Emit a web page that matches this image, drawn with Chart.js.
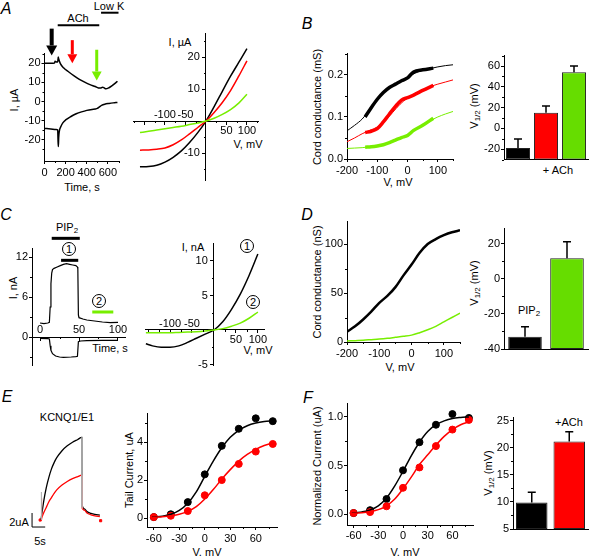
<!DOCTYPE html>
<html lang="en">
<head>
<meta charset="UTF-8">
<title>KCNQ1 / Kir panels</title>
<script src="https://cdn.jsdelivr.net/npm/chart.js"></script>
<style>
  body { margin: 0; background: #fff; }
  #fig { position: relative; width: 590px; height: 556px; overflow: hidden;
         font-family: 'Liberation Sans', Arial, sans-serif; font-size: 11px; color: #000; }
  #fig canvas { position: absolute; left: 0; top: 0; }
  .t { position: absolute; white-space: nowrap; line-height: 1; transform: translate(-50%, -50%); }
  .rot { transform: translate(-50%, -50%) rotate(-90deg); }
  .letter { font-size: 16px; font-style: italic; }
  .circ { width: 12px; height: 12px; line-height: 12px; text-align: center; border: 1px solid #000; border-radius: 50%; }
  sub { font-size: 8px; vertical-align: -2px; line-height: 0; }
</style>
</head>
<body>
<div id="fig">
  <div class="t letter" style="left:6px;top:9px">A</div>
  <div class="t" style="left:78px;top:18px">ACh</div>
  <div class="t" style="left:109px;top:6px">Low K</div>
  <div class="t rot" style="left:14px;top:100px">I, µA</div>
  <div class="t" style="left:82px;top:187px">Time, s</div>
  <div class="t" style="left:180px;top:42px">I, µA</div>
  <div class="t" style="left:248px;top:144px">V, mV</div>

  <div class="t letter" style="left:307px;top:24px">B</div>
  <div class="t rot" style="left:317px;top:107px">Cord conductance (mS)</div>
  <div class="t" style="left:398px;top:182px">V, mV</div>
  <div class="t rot" style="left:474px;top:106px">V<sub>1/2</sub> (mV)</div>
  <div class="t" style="left:558px;top:170px">+ ACh</div>

  <div class="t letter" style="left:6px;top:215px">C</div>
  <div class="t" style="left:67px;top:227px">PIP<sub>2</sub></div>
  <div class="t circ" style="left:69px;top:249px">1</div>
  <div class="t circ" style="left:99px;top:301px">2</div>
  <div class="t rot" style="left:13px;top:288px">I, nA</div>
  <div class="t" style="left:110px;top:348px">Time, s</div>
  <div class="t" style="left:193px;top:247px">I, nA</div>
  <div class="t circ" style="left:247px;top:246px">1</div>
  <div class="t circ" style="left:253px;top:302px">2</div>
  <div class="t" style="left:258px;top:350px">V, mV</div>

  <div class="t letter" style="left:307px;top:215px">D</div>
  <div class="t rot" style="left:317px;top:282px">Cord conductance (nS)</div>
  <div class="t" style="left:400px;top:367px">V, mV</div>
  <div class="t rot" style="left:474px;top:283px">V<sub>1/2</sub> (mV)</div>
  <div class="t" style="left:529px;top:310px">PIP<sub>2</sub></div>

  <div class="t letter" style="left:7px;top:397px">E</div>
  <div class="t" style="left:67px;top:417px">KCNQ1/E1</div>
  <div class="t" style="left:19px;top:522px">2uA</div>
  <div class="t" style="left:40px;top:541px">5s</div>
  <div class="t rot" style="left:129px;top:470px">Tail Current, uA</div>
  <div class="t" style="left:207px;top:552px">V, mV</div>

  <div class="t letter" style="left:308px;top:398px">F</div>
  <div class="t rot" style="left:317px;top:466px">Normalized Current (uA)</div>
  <div class="t" style="left:405px;top:552px">V, mV</div>
  <div class="t rot" style="left:488px;top:473px">V<sub>1/2</sub> (mV)</div>
  <div class="t" style="left:569px;top:422px">+ACh</div>
</div>

<script>
// colours used across panels
const RED = '#ff0000';
const GREEN = '#77ee00';
const BAR_GREEN = '#66dd00';

// ---- A: holding currents vs time (s, uA) ----
const aUpperT = [0, 60, 95, 100, 115, 125, 130, 135, 150, 180, 230, 280, 330, 380, 430, 480, 510, 530, 550, 565, 580, 610, 640, 670, 690];
const aUpperI = [20, 20, 20.1, 21, 20.6, 20.6, 23.2, 22, 19.8, 17.6, 15.4, 13.4, 11.6, 10.1, 8.8, 7.8, 7.1, 7.0, 7.5, 7.1, 6.6, 7.2, 8.3, 9.6, 10.6];
const aLowerT = [0, 60, 110, 125, 128, 131, 134, 140, 155, 175, 200, 250, 300, 350, 400, 450, 480, 500, 520, 540, 570, 610, 650, 690];
const aLowerI = [-14, -14.3, -14.6, -14.8, -20, -23.5, -19, -15.5, -13, -11, -9.6, -7.8, -6.4, -5.4, -4.6, -4.1, -3.9, -3.6, -2.8, -2.0, -1.4, -1.0, -0.7, -0.5];
const aArrowT = [68, 263, 494];
const aAChT = [125, 518];
const aLowKT = [535, 700];
const aTimeTicks = [0, 200, 400, 600];
const aCurTicks = [-20, -10, 0, 10, 20];

// ---- A: I-V (mV, uA) ----
const aV = [-161, -140, -120, -100, -80, -60, -40, -20, 0, 20, 40, 60, 80, 100];
const aIvBlack = [-14.3, -14.2, -13.8, -12.8, -11.3, -9.3, -6.7, -3.6, 0, 4.5, 9.3, 14.0, 18.3, 22.6];
const aIvRed = [-9.1, -9.0, -8.8, -8.4, -7.4, -5.9, -4.0, -2.0, 0, 2.7, 5.8, 9.5, 14.0, 18.8];
const aIvGreen = [-3.6, -3.2, -2.8, -2.4, -2.0, -1.6, -1.1, -0.6, 0, 0.9, 2.1, 3.6, 5.6, 8.4];
const aIvXTicks = [-150, -100, -50, 50, 100];
const aIvYTicks = [-10, 10, 20];

// ---- B: cord conductance (mV, mS) ----
const bFitV = [-200, -175, -150, -125, -100, -75, -50, -25, 0, 25, 50, 75, 100, 125, 150];
const bFitBlack = [0.067, 0.08, 0.095, 0.118, 0.142, 0.161, 0.174, 0.184, 0.195, 0.204, 0.211, 0.215, 0.219, 0.222, 0.224];
const bFitRed = [0.041, 0.05, 0.06, 0.068, 0.076, 0.09, 0.11, 0.13, 0.145, 0.156, 0.164, 0.172, 0.178, 0.183, 0.188];
const bFitGreen = [0.025, 0.026, 0.027, 0.029, 0.031, 0.036, 0.042, 0.049, 0.058, 0.069, 0.08, 0.091, 0.1, 0.107, 0.113];
const bDataV = [-140, -120, -100, -80, -60, -40, -20, 0, 20, 50, 85];
const bDataBlack = [0.10, 0.122, 0.142, 0.158, 0.170, 0.178, 0.186, 0.193, 0.207, 0.212, 0.216];
const bDataRed = [0.063, 0.066, 0.072, 0.088, 0.107, 0.125, 0.140, 0.146, 0.152, 0.163, 0.175];
const bDataGreen = [0.028, 0.029, 0.031, 0.034, 0.039, 0.045, 0.051, 0.056, 0.068, 0.08, 0.097];
const bVTicks = [-200, -100, 0, 100];
const bGTicks = [0, 0.1, 0.2];

// ---- B: V1/2 bars (mV) ----
const bBarLabels = ['Control', 'ACh early', 'ACh late'];
const bBarVals = [-19, 15, 54];
const bBarErr = [8.7, 6.5, 6];
const bBarBase = -30;
const bBarTicks = [-20, 0, 20, 40, 60];

// ---- C: PIP2 time course (s, nA) ----
const cUpperT = [0, 5, 10, 12, 13, 14, 15, 16, 18, 22, 26, 30, 34, 38, 42, 46, 48, 48.5, 49.2, 50, 55, 60, 70, 80, 90, 100];
const cUpperI = [2.1, 2.0, 2.1, 2.2, 4.5, 8, 9.6, 10.1, 10.3, 10.5, 10.7, 10.9, 11.0, 10.9, 10.8, 10.7, 10.5, 10.2, 3.3, 2.9, 2.7, 2.55, 2.4, 2.25, 2.15, 2.2];
const cLowerT = [0, 10, 12, 13, 14, 16, 20, 25, 30, 40, 46, 48, 48.5, 49.2, 52, 60, 80, 100];
const cLowerI = [-0.2, -0.25, -0.3, -1.3, -2.0, -2.5, -2.85, -3.0, -3.05, -3.0, -2.95, -2.9, -2.9, -0.7, -0.6, -0.55, -0.5, -0.5];
const cPipT = [15, 51];
const cWin1T = [27, 49];
const cWin2T = [67, 94];
const cTimeTicks = [0, 50, 100];
const cCurTicks = [0, 6, 12];

// ---- C: I-V (mV, nA) ----
const cV = [-155, -140, -120, -100, -80, -60, -40, -20, 0, 20, 40, 60, 80, 100];
const cIv1 = [-2.0, -2.3, -2.5, -2.5, -2.3, -1.8, -1.2, -0.6, 0, 1.2, 3.0, 5.2, 7.9, 11.0];
const cIv2 = [-0.4, -0.4, -0.4, -0.4, -0.35, -0.3, -0.25, -0.15, 0, 0.2, 0.55, 1.0, 1.7, 2.6];
const cIvXTicks = [-100, -50, 50, 100];
const cIvYTicks = [-5, 5, 10];

// ---- D: cord conductance (mV, nS) and V1/2 ----
const dV = [-200, -175, -150, -125, -100, -75, -50, -25, 0, 25, 50, 75, 100, 125, 150];
const dBlack = [10.5, 16, 23, 31, 40, 47, 56, 68, 79, 91, 100, 105, 109, 112, 114];
const dGreen = [1, 1.4, 1.8, 2.4, 3, 3.8, 4.8, 5.8, 7, 9.5, 12.5, 16, 20.5, 25, 29.5];
const dVTicks = [-200, -100, 0, 100];
const dGTicks = [0, 50, 100];
const dBarLabels = ['Control', 'PIP2'];
const dBarVals = [-33, 11.8];
const dBarErr = [5.7, 9.5];
const dBarBase = -40;
const dBarTicks = [-40, -20, 0, 20];

// ---- E: KCNQ1/E1 current traces (s, uA) ----
const eT = [0, 1, 2, 3, 4, 5, 6, 8, 10, 12, 14, 15.5, 15.6, 16.5, 17.5, 19, 20.5, 22.4];
const eBlack = [0, 2.6, 4.6, 6.1, 7.3, 8.2, 8.9, 9.9, 10.6, 11.1, 11.5, 11.8, 2.3, 1.6, 1.2, 0.95, 0.8, 0.7];
const eRed = [0, 1.0, 1.8, 2.6, 3.2, 3.8, 4.3, 5.0, 5.5, 5.9, 6.2, 6.4, 2.0, 1.4, 1.0, 0.75, 0.6, 0.5];
const eCapGreyT = [0.15, 0.15, null, 15.55, 15.55];
const eCapGreyI = [0, 4.0, null, 11.8, 1.8];
const eCapPinkT = [0.3, 0.3, null, 15.6, 15.6];
const eCapPinkI = [0, 3.1, null, 6.4, 1.6];
const eMarkT = [-0.3, 22.7];
const eMarkI = [0, -0.1];

// ---- E: tail current vs voltage (mV, uA) ----
const eV = [-60, -40, -20, 0, 20, 40, 60, 80];
const eTailBlack = [0.05, 0.2, 0.84, 2.3, 3.8, 4.7, 5.25, 5.1];
const eTailRed = [0.05, 0.12, 0.37, 1.2, 2.0, 2.85, 3.5, 3.9];
const eFitV = [-62, -60, -50, -40, -30, -20, -10, 0, 10, 20, 30, 40, 50, 60, 70, 80];
const eFitBlack = [0.04, 0.05, 0.1, 0.2, 0.4, 0.78, 1.38, 2.2, 3.0, 3.7, 4.25, 4.62, 4.86, 5.0, 5.08, 5.12];
const eFitRed = [0.03, 0.04, 0.07, 0.12, 0.2, 0.35, 0.6, 1.0, 1.5, 2.05, 2.55, 3.0, 3.35, 3.62, 3.82, 3.95];
const eVTicks = [-60, -30, 0, 30, 60];
const eITicks = [0, 2, 4];

// ---- F: normalized current and V1/2 ----
const fBlack = [0.01, 0.04, 0.155, 0.45, 0.74, 0.92, 1.03, 0.99];
const fRed = [0.01, 0.02, 0.08, 0.27, 0.48, 0.70, 0.87, 0.97];
const fFitBlack = [0.008, 0.012, 0.022, 0.042, 0.085, 0.165, 0.29, 0.44, 0.6, 0.74, 0.85, 0.92, 0.96, 0.985, 0.995, 1.0];
const fFitRed = [0.005, 0.008, 0.013, 0.025, 0.045, 0.085, 0.155, 0.26, 0.38, 0.51, 0.61, 0.71, 0.8, 0.87, 0.92, 0.95];
const fNTicks = [0, 0.5, 1.0];
const fBarLabels = ['Control', '+ACh'];
const fBarVals = [9.9, 21.2];
const fBarErr = [1.9, 1.8];
const fBarBase = 5;
const fBarTicks = [5, 10, 15, 20, 25];

Chart.defaults.font.family = "'Liberation Sans', Arial, sans-serif";
Chart.defaults.font.size = 11;
Chart.defaults.color = '#000';
Chart.defaults.animation = false;

const W = 590, H = 556;
const LEFT_W = 36, BOTTOM_H = 22;
const fig = document.getElementById('fig');

// extra drawing: minor ticks, bars over traces, arrows, error bars, labels above axis
const deco = {
    id: 'deco',
    afterDatasetsDraw(chart, args, o) {
        const ctx = chart.ctx;
        const x = chart.scales.x, y = chart.scales.y;
        ctx.save();
        if (o.minor) {
            const sx = chart.options.scales.x, sy = chart.options.scales.y;
            const xBase = typeof sx.position === 'object' ? Math.round(y.getPixelForValue(0)) : chart.chartArea.bottom;
            const yBase = typeof sy.position === 'object' ? Math.round(x.getPixelForValue(0)) : chart.chartArea.left;
            ctx.strokeStyle = '#000';
            ctx.lineWidth = 1;
            ctx.beginPath();
            (o.minor.x || []).forEach(v => {
                const px = Math.round(x.getPixelForValue(v)) + 0.5;
                ctx.moveTo(px, xBase); ctx.lineTo(px, xBase + 2);
            });
            (o.minor.y || []).forEach(v => {
                const py = Math.round(y.getPixelForValue(v)) + 0.5;
                ctx.moveTo(yBase, py); ctx.lineTo(yBase - 2, py);
            });
            ctx.stroke();
        }
        (o.segs || []).forEach(s => {
            ctx.strokeStyle = s.color || '#000';
            ctx.lineWidth = s.width || 2;
            ctx.beginPath();
            ctx.moveTo(x.getPixelForValue(s.x[0]), y.getPixelForValue(s.y[0]));
            ctx.lineTo(x.getPixelForValue(s.x[1]), y.getPixelForValue(s.y[1]));
            ctx.stroke();
        });
        (o.arrows || []).forEach(a => {
            const px = x.getPixelForValue(a.x);
            const top = y.getPixelForValue(a.from), tip = y.getPixelForValue(a.to);
            ctx.strokeStyle = a.color; ctx.fillStyle = a.color;
            ctx.lineWidth = a.width;
            ctx.beginPath();
            ctx.moveTo(px, top);
            ctx.lineTo(px, tip - a.head);
            ctx.stroke();
            ctx.beginPath();
            ctx.moveTo(px - a.head * 0.55, tip - a.head);
            ctx.lineTo(px + a.head * 0.55, tip - a.head);
            ctx.lineTo(px, tip);
            ctx.closePath();
            ctx.fill();
        });
        if (o.err) {
            const meta = chart.getDatasetMeta(0);
            ctx.strokeStyle = '#000';
            ctx.lineWidth = 1.5;
            o.err.vals.forEach((v, i) => {
                const bx = meta.data[i].x;
                const y0 = y.getPixelForValue(v), y1 = y.getPixelForValue(v + o.err.errs[i]);
                ctx.beginPath();
                ctx.moveTo(bx, y0); ctx.lineTo(bx, y1);
                ctx.moveTo(bx - 4, y1); ctx.lineTo(bx + 4, y1);
                ctx.stroke();
            });
        }
        if (o.up) {
            ctx.fillStyle = '#000';
            ctx.font = "11px 'Liberation Sans', Arial, sans-serif";
            ctx.textAlign = 'center';
            ctx.textBaseline = 'bottom';
            const base = y.getPixelForValue(0) + o.up.dy;
            o.up.values.forEach(v => ctx.fillText(String(v), x.getPixelForValue(v), base));
        }
        ctx.restore();
    }
};
Chart.register(deco);

function xy(xs, ys) {
    return xs.map((v, i) => ({x: v, y: ys[i]}));
}

// linear axis with explicit tick values
function axis(min, max, ticks, opt) {
    opt = opt || {};
    const s = {
        type: 'linear', min, max,
        afterBuildTicks: sc => { sc.ticks = ticks.map(v => ({value: v})); },
        grid: {drawOnChartArea: false, color: '#000', tickLength: 3},
        border: {color: '#000', width: 1},
        ticks: {color: '#000', padding: 2, maxRotation: 0, autoSkip: false}
    };
    if (opt.position) {
        s.position = opt.position;
        s.ticks.padding = 0;
    }
    if (opt.pad !== undefined) s.ticks.padding = opt.pad;
    if (opt.callback) s.ticks.callback = opt.callback;
    if (opt.hidden) s.display = false;
    return s;
}

function catAxis() {
    return {
        type: 'category',
        grid: {display: false},
        border: {color: '#000', width: 1},
        ticks: {display: false}
    };
}

function line(pts, color, width, extra) {
    return Object.assign({
        data: pts, borderColor: color, borderWidth: width, pointRadius: 0,
        fill: false, cubicInterpolationMode: 'monotone'
    }, extra || {});
}

function dots(pts, color) {
    return {data: pts, showLine: false, pointRadius: 3.5, pointBackgroundColor: color,
            pointBorderColor: color, borderColor: color};
}

// area = [left, top, right, bottom] of the plot box in page pixels.
// Edge axes get a fixed box size so the padding places the plot box exactly.
function makeChart(area, type, datasets, scales, decoOpts, labels) {
    const leftW = (scales.y.position || scales.y.display === false) ? 0 : Math.min(LEFT_W, area[0]);
    const bottomH = (scales.x.position || scales.x.display === false) ? 0 : BOTTOM_H;
    scales.y.afterFit = sc => { sc.width = leftW; };
    scales.x.afterFit = sc => { sc.height = bottomH; };

    const cv = document.createElement('canvas');
    cv.width = W; cv.height = H;
    fig.appendChild(cv);
    return new Chart(cv, {
        type: type,
        data: {labels: labels, datasets: datasets},
        options: {
            responsive: false,
            events: [],
            layout: {padding: {left: area[0] - leftW, top: area[1], right: W - area[2], bottom: H - area[3] - bottomH}},
            plugins: {legend: {display: false}, tooltip: {enabled: false}, deco: decoOpts || {}},
            scales: scales
        }
    });
}

const noZero = v => (v === 0 ? '' : v + '  ');
const posOnly = v => (v > 0 ? v : '');
const blank = () => '';
const oneDec = v => v.toFixed(1);

// A left: currents vs time
makeChart([44.5, 53, 118.5, 161], 'line', [
    line(xy(aUpperT, aUpperI), '#000', 1.5),
    line(xy(aLowerT, aLowerI), '#000', 1.5)
], {
    x: axis(0, 700, aTimeTicks),
    y: axis(-31, 25.3, aCurTicks, {pad: 1})
}, {
    minor: {x: [100, 300, 500, 700], y: [-25, -15, -5, 5, 15, 25]},
    segs: [
        {x: aAChT, y: [39.8, 39.8], width: 2},
        {x: aLowKT, y: [46.3, 46.3], width: 2}
    ],
    arrows: [
        {x: aArrowT[0], from: 38, to: 24, color: '#000', width: 4, head: 10},
        {x: aArrowT[1], from: 32, to: 20, color: RED, width: 3, head: 9},
        {x: aArrowT[2], from: 27, to: 11, color: GREEN, width: 3, head: 9}
    ]
});

// A right: I-V
makeChart([133, 33, 258, 180], 'line', [
    line(xy(aV, aIvGreen), GREEN, 1.5),
    line(xy(aV, aIvRed), RED, 1.5),
    line(xy(aV, aIvBlack), '#000', 1.5)
], {
    x: axis(-178, 127, aIvXTicks, {position: {y: 0}, callback: posOnly}),
    y: axis(-18.4, 27.5, aIvYTicks, {position: {x: 0}, callback: noZero})
}, {
    minor: {x: [-175, -125, -75, -25, 25, 75, 125], y: [-15, -5, 5, 15, 25]},
    up: {values: [-100, -50], dy: -1}
});

// B left: conductance
makeChart([347, 53, 453, 159], 'line', [
    line(xy(bFitV, bFitGreen), GREEN, 1),
    line(xy(bFitV, bFitRed), RED, 1),
    line(xy(bFitV, bFitBlack), '#000', 1),
    line(xy(bDataV, bDataGreen), GREEN, 3.5),
    line(xy(bDataV, bDataRed), RED, 3.5),
    line(xy(bDataV, bDataBlack), '#000', 3.5)
], {
    x: axis(-200, 150, bVTicks),
    y: axis(0, 0.252, bGTicks, {callback: oneDec, pad: 1})
}, {minor: {x: [-150, -50, 50, 150], y: [0.05, 0.15, 0.25]}});

// B right: V1/2 bars
makeChart([504, 55.7, 588, 159.5], 'bar', [{
    data: bBarVals.map(v => [bBarBase, v]),
    backgroundColor: ['#000', RED, BAR_GREEN],
    borderColor: '#222', borderWidth: 1, borderSkipped: false,
    barPercentage: 0.86, categoryPercentage: 1
}], {
    x: catAxis(),
    y: axis(-30, 70, bBarTicks, {pad: 1})
}, {err: {vals: bBarVals, errs: bBarErr}, minor: {y: [-30, -10, 10, 30, 50, 70]}}, bBarLabels);

// C left: PIP2 time course
makeChart([32, 248, 125, 365], 'line', [
    line(xy(cUpperT, cUpperI), '#000', 1.2, {cubicInterpolationMode: 'default', tension: 0}),
    line(xy(cLowerT, cLowerI), '#000', 1.2, {cubicInterpolationMode: 'default', tension: 0})
], {
    x: axis(-10.3, 109, cTimeTicks, {position: {y: 0}, callback: blank}),
    y: axis(-4.2, 13.35, cCurTicks, {pad: 1})
}, {
    minor: {x: [25, 75], y: [-3, 3, 9]},
    segs: [
        {x: cPipT, y: [14.8, 14.8], width: 3},
        {x: cWin1T, y: [11.5, 11.5], width: 3},
        {x: cWin2T, y: [3.75, 3.75], width: 3, color: GREEN}
    ],
    up: {values: cTimeTicks, dy: -2}
});

// C right: I-V
makeChart([145, 243, 264, 365], 'line', [
    line(xy(cV, cIv2), GREEN, 1.5),
    line(xy(cV, cIv1), '#000', 1.5)
], {
    x: axis(-157, 114, cIvXTicks, {position: {y: 0}, callback: posOnly}),
    y: axis(-5.07, 12.6, cIvYTicks, {position: {x: 0}, callback: noZero})
}, {
    minor: {x: [-150, -125, -75, -25, 25, 75], y: [-2.5, 2.5, 7.5]},
    up: {values: [-100, -50], dy: -1}
});

// D left: conductance
makeChart([347, 221, 460, 342], 'line', [
    line(xy(dV, dGreen), GREEN, 1.5),
    line(xy(dV, dBlack), '#000', 2.5)
], {
    x: axis(-200, 150, dVTicks),
    y: axis(0, 123.5, dGTicks, {pad: 1})
}, {minor: {x: [-150, -50, 50, 150], y: [25, 75]}});

// D right: V1/2 bars
makeChart([504, 228, 588, 349], 'bar', [{
    data: dBarVals.map(v => [dBarBase, v]),
    backgroundColor: ['#000', BAR_GREEN],
    borderColor: '#222', borderWidth: 1, borderSkipped: false,
    barPercentage: 0.8, categoryPercentage: 1
}], {
    x: catAxis(),
    y: axis(-40, 29.1, dBarTicks, {pad: 1})
}, {err: {vals: dBarVals, errs: dBarErr}, minor: {y: [-30, -10, 10]}}, dBarLabels);

// E left: current traces with scale bar
makeChart([28, 425, 108, 535], 'line', [
    line(xy(eCapGreyT, eCapGreyI), '#aaaaaa', 1, {cubicInterpolationMode: 'default', spanGaps: false}),
    line(xy(eCapPinkT, eCapPinkI), '#ff9999', 1, {cubicInterpolationMode: 'default', spanGaps: false}),
    line(xy(eT, eRed), RED, 1.3),
    line(xy(eT, eBlack), '#000', 1.3),
    {data: xy(eMarkT, eMarkI), showLine: false, pointStyle: 'rect', pointRadius: 1.5,
     pointBackgroundColor: RED, pointBorderColor: RED}
], {
    x: axis(-4.94, 25.5, [], {hidden: true}),
    y: axis(-2.14, 13.57, [], {hidden: true})
}, {
    segs: [
        {x: [-3.4, -3.4], y: [1, -1], width: 1},
        {x: [-3.4, 1.6], y: [-1, -1], width: 1}
    ]
});

// E right: tail currents
makeChart([147, 413, 277, 527], 'line', [
    line(xy(eFitV, eFitRed), RED, 1.5),
    line(xy(eFitV, eFitBlack), '#000', 1.5),
    dots(xy(eV, eTailRed), RED),
    dots(xy(eV, eTailBlack), '#000')
], {
    x: axis(-68, 85, eVTicks),
    y: axis(-0.47, 5.53, eITicks, {pad: 1})
}, {minor: {x: [-45, -15, 15, 45, 75], y: [1, 3, 5]}});

// F middle: normalized
makeChart([347, 403, 473, 525], 'line', [
    line(xy(eFitV, fFitRed), RED, 1.5),
    line(xy(eFitV, fFitBlack), '#000', 1.5),
    dots(xy(eV, fRed), RED),
    dots(xy(eV, fBlack), '#000')
], {
    x: axis(-68, 85, eVTicks, {pad: 1}),
    y: axis(-0.113, 1.144, fNTicks, {callback: oneDec, pad: 1})
}, {minor: {x: [-45, -15, 15, 45, 75], y: [0.25, 0.75]}});

// F right: V1/2 bars
makeChart([513, 417, 588, 529], 'bar', [{
    data: fBarVals.map(v => [fBarBase, v]),
    backgroundColor: ['#000', RED],
    borderColor: '#222', borderWidth: 1, borderSkipped: false,
    barPercentage: 0.84, categoryPercentage: 1
}], {
    x: catAxis(),
    y: axis(5, 25.74, fBarTicks, {pad: 1})
}, {err: {vals: fBarVals, errs: fBarErr}, minor: {y: [7.5, 12.5, 17.5, 22.5]}}, fBarLabels);
</script>
</body>
</html>
